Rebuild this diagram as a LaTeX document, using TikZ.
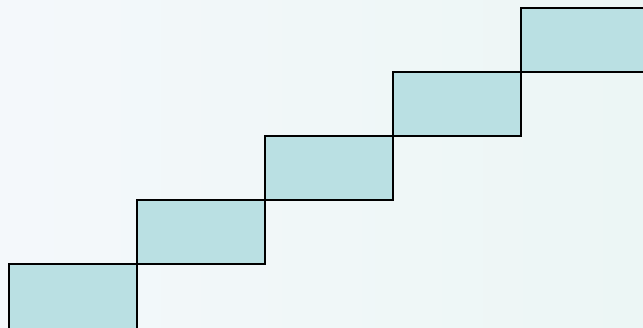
\documentclass[tikz,border=0pt]{standalone}
\begin{document}
\begin{tikzpicture}[x=1pt,y=-1pt,
  stepbox/.style={draw=black,fill={rgb,255:red,186;green,224;blue,227},line width=1.4pt}]
\definecolor{bgA}{RGB}{244,248,251}
\definecolor{bgB}{RGB}{236,246,245}
\useasboundingbox (0,0) rectangle (643,327);
\shade[left color=bgA,right color=bgB] (0,0) rectangle (643,327);
\clip (0,0) rectangle (643,327);
\draw[stepbox] (9,264) rectangle (137,340);
\foreach \i in {1,...,3}{
  \draw[stepbox] ({9+128*\i},{264-64*\i}) rectangle ++(128,64);
}
\draw[stepbox] (521,8) rectangle (660,72);
\end{tikzpicture}
\end{document}
